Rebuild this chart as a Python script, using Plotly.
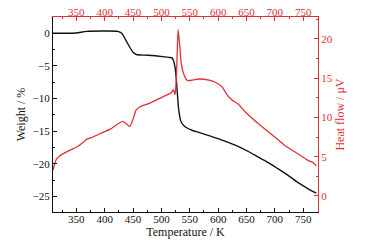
import plotly.graph_objects as go

# Weight (left axis)
temp_w = [309, 330, 350, 368, 400, 423, 430, 437, 444, 450, 456, 470, 484, 500, 514, 519, 521,
          524, 526, 528, 530, 532, 534, 538, 543, 555, 566, 584, 601, 620, 637, 655, 671, 690,
          706, 725, 741, 758, 773]
weight = [0.0, 0.0, 0.05, 0.3, 0.35, 0.3, 0.0, -1.0, -2.1, -2.9, -3.25, -3.35, -3.4, -3.55, -3.7,
          -3.8, -4.1, -5.2, -6.7, -9.0, -11.3, -12.6, -13.4, -14.0, -14.4, -14.9, -15.2, -15.7,
          -16.2, -16.8, -17.4, -18.2, -19.0, -19.9, -20.8, -21.9, -22.9, -23.8, -24.5]

# Heat flow (right axis)
temp_h = [309, 312, 315, 320, 326, 338, 350, 362, 368, 379, 397, 411, 426, 432, 438, 444, 448, 452,
          455, 461, 467, 479, 496, 511, 514, 518, 521, 524, 526.5, 528, 529.5, 531, 532.5, 535, 540,
          546, 555, 566, 584, 596, 607, 613, 619, 625, 637, 648, 671, 695, 718, 741, 759,
          766, 773]
heat = [3.3, 4.1, 4.7, 5.05, 5.35, 5.8, 6.2, 6.8, 7.2, 7.5, 8.1, 8.55, 9.3, 9.5, 9.2, 8.85, 9.4,
        10.2, 10.9, 11.3, 11.5, 11.8, 12.4, 12.9, 13.0, 13.2, 13.55, 12.9, 15.2, 18.5, 21.2, 20.2,
        19.0, 16.9, 15.4, 14.7, 14.75, 14.9, 14.75, 14.45, 13.9, 13.2, 12.6, 12.2, 11.6,
        10.7, 9.2, 7.8, 6.4, 5.35, 4.5, 4.3, 3.85]

x_ticks = [350, 400, 450, 500, 550, 600, 650, 700, 750]

BLACK = "#111111"
RED = "#e0303a"
FONT = "Liberation Serif, Times New Roman, serif"

fig = go.Figure()
fig.add_trace(go.Scatter(x=temp_w, y=weight, mode="lines", line=dict(color=BLACK, width=1.4),
                         line_shape="spline", line_smoothing=0.6,
                         xaxis="x", yaxis="y", showlegend=False))
fig.add_trace(go.Scatter(x=temp_h, y=heat, mode="lines", line=dict(color=RED, width=1.3),
                         line_shape="spline", line_smoothing=0.5,
                         xaxis="x2", yaxis="y2", showlegend=False))

xr = [309, 776]
common = dict(showgrid=False, zeroline=False, showline=True, linewidth=1.3, ticks="inside",
              ticklen=4, tickwidth=1, automargin=False)

# page body has an 8px default margin, so the figure is 8px smaller and margins shifted
fig.update_layout(
    width=358, height=234,
    margin=dict(l=45, r=48, t=9, b=30),
    paper_bgcolor="white", plot_bgcolor="white",
    font=dict(family=FONT, size=11, color=BLACK),
    xaxis=dict(range=xr, tickvals=x_ticks, linecolor=BLACK, tickcolor=BLACK,
               minor=dict(ticks="inside", ticklen=2, dtick=25, tick0=300, tickcolor=BLACK),
               title=dict(text="Temperature / K", font=dict(size=12, family=FONT), standoff=0),
               ticklabelstandoff=-3,
               tickfont=dict(size=11, family=FONT, color=BLACK), mirror=False, **common),
    xaxis2=dict(range=xr, tickvals=x_ticks, overlaying="x", side="top", anchor="y2",
                linecolor=RED, tickcolor=RED, ticklabelstandoff=-5,
                minor=dict(ticks="inside", ticklen=2, dtick=25, tick0=300, tickcolor=RED),
                tickfont=dict(size=11, family=FONT, color=RED), **common),
    yaxis=dict(range=[-27.4, 2.5], dtick=5, tick0=0, linecolor=BLACK, tickcolor=BLACK,
               minor=dict(ticks="inside", ticklen=2, dtick=2.5, tick0=0, tickcolor=BLACK),
               title=dict(text="Weight / %", font=dict(size=12, family=FONT), standoff=4),
               tickfont=dict(size=11, family=FONT, color=BLACK), **common),
    yaxis2=dict(range=[-2.05, 22.8], dtick=5, tick0=0, overlaying="y", side="right", anchor="x2",
                linecolor=RED, tickcolor=RED,
                minor=dict(ticks="inside", ticklen=2, dtick=2.5, tick0=0, tickcolor=RED),
                title=dict(text="Heat flow / μV", font=dict(size=12, family=FONT, color=RED), standoff=3),
                tickfont=dict(size=11, family=FONT, color=RED), **common),
)

fig.write_html("out.html")
